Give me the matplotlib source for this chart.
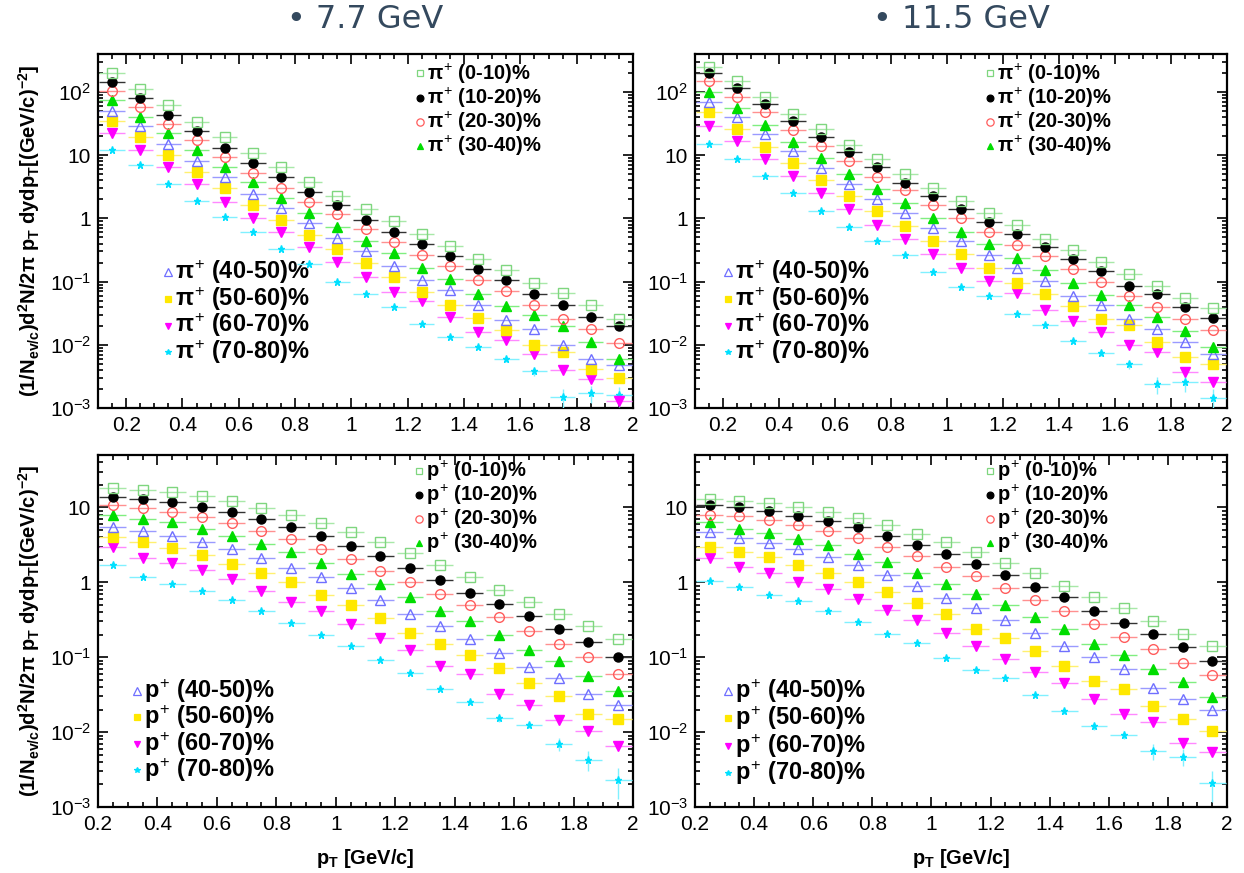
import numpy as np
import matplotlib
matplotlib.use('Agg')
import matplotlib.pyplot as plt
from matplotlib.ticker import MultipleLocator, LogLocator, FuncFormatter, NullFormatter

plt.rcParams['font.family'] = ['Liberation Sans', 'DejaVu Sans']
plt.rcParams['mathtext.fontset'] = 'custom'
plt.rcParams['mathtext.rm'] = 'Liberation Sans'
plt.rcParams['mathtext.it'] = 'Liberation Sans:bold'
plt.rcParams['mathtext.bf'] = 'Liberation Sans:bold'

# ---------------- data ----------------
centralities = ['(0-10)%', '(10-20)%', '(20-30)%', '(30-40)%',
                '(40-50)%', '(50-60)%', '(60-70)%', '(70-80)%']
energies = ['7.7 GeV', '11.5 GeV']

pt_pi = [0.15, 0.25, 0.35, 0.45, 0.55, 0.65, 0.75, 0.85, 0.95, 1.05,
         1.15, 1.25, 1.35, 1.45, 1.55, 1.65, 1.75, 1.85, 1.95]
pt_p = [0.25, 0.35, 0.45, 0.55, 0.65, 0.75, 0.85, 0.95, 1.05,
        1.15, 1.25, 1.35, 1.45, 1.55, 1.65, 1.75, 1.85, 1.95]

# pi+ spectra, 7.7 GeV
pi_77 = [
    [200, 111, 63, 34, 19.2, 10.7, 6.4, 3.8, 2.29, 1.39, 0.90, 0.57, 0.37, 0.23, 0.152, 0.095, 0.067, 0.043, 0.026],
    [142, 80, 44, 24.3, 13.2, 7.5, 4.46, 2.61, 1.61, 0.955, 0.61, 0.39, 0.25, 0.16, 0.107, 0.063, 0.043, 0.028, 0.0196],
    [105, 58, 31.7, 17.3, 9.5, 5.3, 3.0, 1.82, 1.16, 0.69, 0.43, 0.265, 0.178, 0.107, 0.072, 0.043, 0.026, 0.0178, 0.0107],
    [75, 41, 22.3, 12.0, 6.6, 3.75, 2.1, 1.22, 0.74, 0.446, 0.284, 0.163, 0.112, 0.063, 0.041, 0.0296, 0.0196, 0.011, 0.006],
    [51, 29.5, 14.9, 8.0, 4.46, 2.46, 1.44, 0.86, 0.49, 0.30, 0.176, 0.107, 0.074, 0.043, 0.0245, 0.0178, 0.010, 0.006, 0.0048],
    [35, 19.7, 10.2, 5.5, 3.0, 1.61, 0.95, 0.54, 0.33, 0.20, 0.12, 0.069, 0.043, 0.027, 0.017, 0.0099, 0.0076, 0.0042, 0.003],
    [22.3, 12.3, 6.6, 3.5, 1.84, 1.03, 0.61, 0.35, 0.206, 0.12, 0.069, 0.05, 0.028, 0.0158, 0.012, 0.0072, 0.004, 0.0029, 0.0013],
    [12.3, 7.1, 3.55, 1.86, 1.04, 0.60, 0.33, 0.187, 0.10, 0.063, 0.039, 0.021, 0.0135, 0.0092, 0.0059, 0.0038, 0.0015, 0.0017, 0.0016],
]
# pi+ spectra, 11.5 GeV
pi_115 = [
    [247, 147, 83, 45, 26, 14.6, 8.8, 5.1, 3.06, 1.88, 1.2, 0.78, 0.48, 0.32, 0.205, 0.133, 0.086, 0.056, 0.038],
    [200, 114, 64, 35, 19.2, 11.2, 6.4, 3.7, 2.29, 1.39, 0.87, 0.57, 0.35, 0.226, 0.146, 0.086, 0.063, 0.039, 0.027],
    [149, 85, 48, 25.4, 13.9, 8.0, 4.57, 2.8, 1.61, 1.0, 0.60, 0.38, 0.25, 0.158, 0.10, 0.059, 0.040, 0.026, 0.0174],
    [100, 56, 30.5, 16.3, 9.1, 5.1, 2.9, 1.74, 1.0, 0.61, 0.39, 0.233, 0.155, 0.095, 0.062, 0.042, 0.028, 0.0166, 0.0094],
    [70, 40, 21.4, 11.5, 6.3, 3.5, 2.0, 1.2, 0.71, 0.44, 0.26, 0.162, 0.102, 0.060, 0.042, 0.026, 0.0178, 0.0112, 0.0071],
    [48, 26, 13.5, 7.4, 4.1, 2.25, 1.29, 0.76, 0.44, 0.27, 0.166, 0.096, 0.063, 0.041, 0.026, 0.0205, 0.011, 0.0065, 0.005],
    [28.7, 16.6, 8.7, 4.7, 2.57, 1.39, 0.80, 0.47, 0.27, 0.166, 0.104, 0.066, 0.036, 0.024, 0.0158, 0.010, 0.0077, 0.0037, 0.0026],
    [15.3, 8.6, 4.7, 2.5, 1.32, 0.74, 0.44, 0.26, 0.14, 0.081, 0.059, 0.031, 0.0205, 0.0115, 0.0074, 0.0049, 0.0024, 0.0026, 0.00145],
]
# proton spectra, 7.7 GeV
p_77 = [
    [18.1, 17.2, 16.0, 14.1, 12.0, 9.9, 7.9, 6.2, 4.65, 3.4, 2.44, 1.68, 1.17, 0.79, 0.55, 0.38, 0.257, 0.174],
    [13.7, 13.0, 11.8, 10.1, 8.6, 7.0, 5.5, 4.2, 3.06, 2.23, 1.56, 1.06, 0.73, 0.52, 0.35, 0.24, 0.158, 0.102],
    [10.6, 9.7, 8.7, 7.4, 6.2, 4.9, 3.8, 2.75, 2.05, 1.42, 1.0, 0.69, 0.50, 0.34, 0.223, 0.148, 0.10, 0.059],
    [7.8, 7.1, 6.3, 5.1, 4.15, 3.24, 2.5, 1.82, 1.3, 0.94, 0.635, 0.41, 0.30, 0.195, 0.123, 0.089, 0.056, 0.035],
    [5.4, 4.9, 4.15, 3.5, 2.79, 2.14, 1.55, 1.16, 0.84, 0.575, 0.38, 0.257, 0.174, 0.113, 0.075, 0.053, 0.032, 0.023],
    [4.0, 3.4, 2.88, 2.3, 1.78, 1.35, 1.0, 0.68, 0.49, 0.334, 0.21, 0.152, 0.107, 0.072, 0.045, 0.030, 0.0173, 0.0148],
    [2.94, 2.12, 1.82, 1.44, 1.1, 0.77, 0.545, 0.41, 0.28, 0.18, 0.123, 0.076, 0.060, 0.032, 0.023, 0.0145, 0.0105, 0.0066],
    [1.68, 1.16, 0.946, 0.77, 0.575, 0.414, 0.288, 0.195, 0.141, 0.091, 0.062, 0.038, 0.0256, 0.0153, 0.0125, 0.0069, 0.0043, 0.0023],
]
# proton spectra, 11.5 GeV
p_115 = [
    [12.9, 12.1, 11.3, 10.0, 8.7, 7.2, 5.75, 4.47, 3.4, 2.54, 1.8, 1.31, 0.90, 0.64, 0.455, 0.30, 0.206, 0.142],
    [10.7, 10.0, 9.0, 7.65, 6.6, 5.4, 4.15, 3.19, 2.42, 1.74, 1.26, 0.87, 0.64, 0.41, 0.284, 0.206, 0.138, 0.090],
    [7.8, 7.6, 6.85, 5.8, 4.9, 3.87, 3.0, 2.24, 1.62, 1.21, 0.83, 0.58, 0.41, 0.28, 0.186, 0.13, 0.083, 0.058],
    [6.3, 5.2, 4.55, 3.75, 3.12, 2.37, 1.87, 1.35, 0.955, 0.70, 0.49, 0.34, 0.237, 0.148, 0.107, 0.069, 0.047, 0.029],
    [4.75, 3.87, 3.3, 2.74, 2.18, 1.68, 1.25, 0.90, 0.616, 0.46, 0.31, 0.21, 0.14, 0.10, 0.070, 0.039, 0.028, 0.020],
    [2.94, 2.52, 2.18, 1.71, 1.32, 1.02, 0.75, 0.535, 0.38, 0.24, 0.18, 0.122, 0.077, 0.048, 0.038, 0.022, 0.015, 0.0103],
    [2.08, 1.6, 1.35, 1.02, 0.81, 0.59, 0.42, 0.31, 0.213, 0.139, 0.095, 0.063, 0.045, 0.0276, 0.0177, 0.0135, 0.0072, 0.0054],
    [1.04, 0.86, 0.68, 0.56, 0.41, 0.295, 0.206, 0.157, 0.098, 0.068, 0.052, 0.031, 0.019, 0.012, 0.0092, 0.0056, 0.0047, 0.0021],
]
# relative statistical errors of the most peripheral (70-80%) bin
pi_77_err80 = [0, 0, 0, 0, 0, 0, 0, 0, 0, 0, 0, 0, 0.05, 0.08, 0.1, 0.15, 0.35, 0.3, 0.35]
pi_115_err80 = [0, 0, 0, 0, 0, 0, 0, 0, 0, 0, 0, 0, 0.05, 0.08, 0.1, 0.15, 0.3, 0.3, 0.4]
p_77_err80 = [0, 0, 0, 0, 0, 0, 0, 0, 0, 0, 0, 0.05, 0.08, 0.1, 0.1, 0.2, 0.3, 0.45]
p_115_err80 = [0, 0, 0, 0, 0, 0, 0, 0, 0, 0, 0, 0.05, 0.08, 0.1, 0.12, 0.25, 0.25, 0.45]

# ---------------- styles ----------------
markers = ['s', 'o', 'o', '^', '^', 's', 'v', '*']
mcolors = ['#7fd67f', '#000000', '#ff5c5c', '#00dd00', '#6f6fff', '#ffe800', '#ff00ff', '#00e0ff']
filled = [False, True, False, True, False, True, True, True]
ecolors = ['#a8e8a8', '#333333', '#ff9090', '#80ee80', '#9a9aff', '#fff070', '#ff88ff', '#80f0ff']
msizes = [6.5, 6.5, 7, 6.5, 7, 6.5, 6.5, 5.2]

fig = plt.figure(figsize=(12.44, 8.73), dpi=100)

W, H = 1244.0, 873.0
cols = [(98, 633), (695, 1227)]
rows = [(54, 408), (455, 807)]

panels = [
    (0, 0, pi_77, pi_77_err80, pt_pi, r'$\pi^{+}$', (0.1, 2.0), (1e-3, 400)),
    (0, 1, pi_115, pi_115_err80, pt_pi, r'$\pi^{+}$', (0.1, 2.0), (1e-3, 400)),
    (1, 0, p_77, p_77_err80, pt_p, r'$p^{+}$', (0.2, 2.0), (1e-3, 50)),
    (1, 1, p_115, p_115_err80, pt_p, r'$p^{+}$', (0.2, 2.0), (1e-3, 50)),
]

# legend layout per panel: (x_up, y_up0, dy_up, x_lo, y_lo0, dy_lo) in axes fraction
leg_layout = {
    (0, 0): (0.602, 0.945, 0.068, 0.131, 0.384, 0.0755),
    (0, 1): (0.555, 0.945, 0.068, 0.062, 0.384, 0.0755),
    (1, 0): (0.600, 0.955, 0.068, 0.073, 0.330, 0.0750),
    (1, 1): (0.555, 0.955, 0.068, 0.062, 0.330, 0.0780),
}


def ylab(v, pos):
    e = int(round(np.log10(v)))
    if e == 0:
        return '1'
    if e == 1:
        return '10'
    return r'$10^{%d}$' % e


def xlab(v, pos):
    return '%g' % round(v, 3)


for (r, c, data, err80, pt, sym, xl, yl) in panels:
    x0, x1 = cols[c]
    yt, yb = rows[r]
    ax = fig.add_axes([x0 / W, 1 - yb / H, (x1 - x0) / W, (yb - yt) / H])
    ax.set_yscale('log')
    for i in range(8):
        y = np.array(data[i])
        yerr = None
        if i == 7:
            yerr = y * np.array(err80)
        ax.errorbar(pt, y, xerr=0.045, yerr=yerr, fmt=markers[i], ms=msizes[i],
                    mfc=mcolors[i] if filled[i] else 'none', mec=mcolors[i],
                    mew=1.0, ecolor=ecolors[i], elinewidth=1.0, capsize=0,
                    ls='none', zorder=3 + (8 - i) * 0.01)
    ax.set_xlim(*xl)
    ax.set_ylim(*yl)
    ax.xaxis.set_major_locator(MultipleLocator(0.2))
    ax.xaxis.set_minor_locator(MultipleLocator(0.05))
    ax.xaxis.set_major_formatter(FuncFormatter(xlab))
    ax.yaxis.set_major_locator(LogLocator(base=10, numticks=20))
    ax.yaxis.set_minor_locator(LogLocator(base=10, subs=np.arange(2, 10), numticks=20))
    ax.yaxis.set_major_formatter(FuncFormatter(ylab))
    ax.yaxis.set_minor_formatter(NullFormatter())
    ax.tick_params(which='both', direction='in', top=True, right=True, width=1.2,
                   labelsize=15, colors='black')
    ax.tick_params(which='major', length=7.5)
    ax.tick_params(which='minor', length=3.8)
    ax.tick_params(axis='x', pad=6)
    ax.tick_params(axis='y', pad=5)
    for s in ax.spines.values():
        s.set_linewidth(1.6)

    if c == 0:
        ax.set_ylabel(r'(1/N$_{\mathbf{ev/c}}$)d$^{\mathbf{2}}$N/2$\pi$ p$_{\mathbf{T}}$ dydp$_{\mathbf{T}}$[(GeV/c)$^{\mathbf{-2}}$]',
                      fontsize=14.5, fontweight='bold')
        ax.yaxis.set_label_coords(-0.105, 0.5)
    if r == 1:
        ax.set_xlabel(r'p$_{\mathbf{T}}$ [GeV/c]', fontsize=14.5, fontweight='bold')
        ax.xaxis.set_label_coords(0.5, -0.115)

    xu, yu0, dyu, xlo, ylo0, dylo = leg_layout[(r, c)]
    for i in range(8):
        if i < 4:
            lx, ly, fs = xu, yu0 - i * dyu, 14.5
        else:
            lx, ly, fs = xlo, ylo0 - (i - 4) * dylo, 17
        ax.plot([lx], [ly], marker=markers[i], ms=msizes[i] * 0.75, ls='none',
                mfc=mcolors[i] if filled[i] else 'none', mec=mcolors[i], mew=0.9,
                transform=ax.transAxes, clip_on=False)
        ax.text(lx + 0.013, ly, sym + ' ' + centralities[i], transform=ax.transAxes,
                fontsize=fs, fontweight='bold', va='center', ha='left')

# energy headers
for c, e in enumerate(energies):
    x0, x1 = cols[c]
    fig.text((x0 + x1) / 2 / W, 1 - 19 / H, '\u2022 ' + e, fontsize=23,
             color='#34495e', ha='center', va='center', family='DejaVu Sans')

fig.savefig('out.png', dpi=100)
